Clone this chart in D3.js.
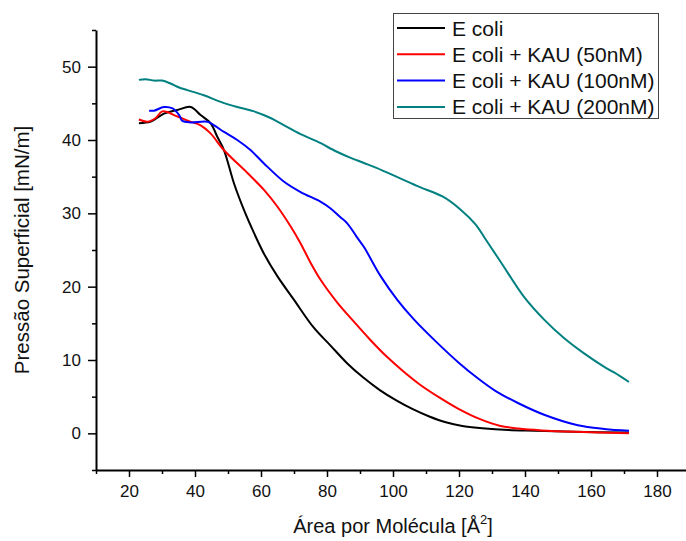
<!DOCTYPE html>
<html>
<head>
<meta charset="utf-8">
<script src="https://cdn.jsdelivr.net/npm/d3@7"></script>
<style>
  body { margin: 0; background: #fff; }
  svg { font-family: "Liberation Sans", Arial, sans-serif; }
</style>
</head>
<body>
<script>
// isotherms: [area, pressure]
const ecoli = [[23,42.3],[26.6,42.5],[30.6,43.6],[34.7,44.1],[38.7,44.5],[41.7,43.4],[44.7,42.3],[46.8,40.4],[48.8,38.6],[51.8,34.1],[54.8,30.5],[57.9,27.3],[60.9,24.5],[65,21.4],[70,18.2],[76,14.4],[81,12],[86,9.6],[91,7.6],[96,5.9],[101,4.5],[106,3.3],[111,2.3],[116,1.5],[121,1.0],[127,0.7],[135,0.45],[143,0.35],[155,0.2],[171.5,0.1]];
const ecoliKau50 = [[23,42.8],[25.6,42.5],[28.1,43.0],[30.1,43.9],[34.7,43.2],[38,42.6],[41.7,42.0],[44.7,40.9],[48.8,38.6],[55.9,35.5],[60.9,33.2],[65,30.9],[69,28.2],[72,25.9],[75.1,23.2],[78.1,20.9],[83,17.9],[88,15.3],[93,12.8],[98,10.5],[103,8.5],[108,6.7],[114,4.9],[120,3.3],[126,2.0],[132.6,1.0],[138,0.65],[145,0.4],[155,0.2],[171.5,0.0]];
const ecoliKau100 = [[26.1,44.0],[27.6,44.0],[30.6,44.5],[33.2,44.3],[35.2,43.4],[36.2,42.6],[38.7,42.4],[43.8,42.5],[45.8,42.0],[48.8,41.1],[52.8,40.0],[56.9,38.6],[60.9,36.8],[67,34.3],[72,32.9],[78,31.6],[81,30.7],[84,29.5],[86.2,28.6],[89,26.8],[91.2,25.4],[96.3,21.4],[101.3,18.2],[106.4,15.5],[113.5,12.3],[120,9.6],[126,7.4],[131,5.8],[138,4.1],[146,2.5],[156,1.1],[164,0.6],[171.5,0.35]];
const ecoliKau200 = [[23,48.2],[25,48.3],[27.6,48.1],[30,48.1],[32.6,47.7],[35,47.2],[37.7,46.8],[42.7,46.1],[47.8,45.2],[52.8,44.5],[57.9,43.9],[62.9,43.0],[67,42],[72,40.8],[77,39.8],[83,38.4],[87,37.6],[91,36.9],[95,36.2],[102,34.8],[108,33.6],[115,32.3],[120.5,30.5],[125,28.5],[128,26.5],[132.6,23.4],[139.7,18.6],[145.8,15.5],[151.8,13.0],[157.9,10.9],[163.9,9.1],[167,8.3],[171.5,7.0]];

const seriesNames = ['E coli', 'E coli + KAU (50nM)', 'E coli + KAU (100nM)', 'E coli + KAU (200nM)'];
const seriesColors = ['#000000', '#ff0000', '#0000ff', '#008080'];
const seriesData = [ecoli, ecoliKau50, ecoliKau100, ecoliKau200];

const xMajor = [20, 40, 60, 80, 100, 120, 140, 160, 180];
const xMinor = [10, 30, 50, 70, 90, 110, 130, 150, 170, 190];
const yMajor = [0, 10, 20, 30, 40, 50];
const yMinor = [-5, 5, 15, 25, 35, 45, 55];

const W = 686, H = 541;

const svg = d3.select('body').append('svg')
  .attr('width', W)
  .attr('height', H);

const x = d3.scaleLinear().domain([10, 190]).range([96, 690]);
const y = d3.scaleLinear().domain([-5, 55]).range([470, 30]);

// minor ticks first, then major axes on top
svg.append('g')
  .attr('transform', `translate(0,${y(-5)})`)
  .call(d3.axisBottom(x).tickValues(xMinor).tickSize(4).tickFormat('').tickSizeOuter(0))
  .call(g => g.select('.domain').remove())
  .call(g => g.selectAll('line').attr('stroke-width', 1.5));

svg.append('g')
  .attr('transform', `translate(${x(10)},0)`)
  .call(d3.axisLeft(y).tickValues(yMinor).tickSize(4).tickFormat('').tickSizeOuter(0))
  .call(g => g.select('.domain').remove())
  .call(g => g.selectAll('line').attr('stroke-width', 1.5));

const xAxis = svg.append('g')
  .attr('transform', `translate(0,${y(-5)})`)
  .call(d3.axisBottom(x).tickValues(xMajor).tickSize(7).tickPadding(8).tickSizeOuter(0));

const yAxis = svg.append('g')
  .attr('transform', `translate(${x(10)},0)`)
  .call(d3.axisLeft(y).tickValues(yMajor).tickSize(8).tickPadding(7).tickSizeOuter(0));

[xAxis, yAxis].forEach(g => {
  g.select('.domain').attr('stroke-width', 2);
  g.selectAll('.tick line').attr('stroke-width', 1.5);
  g.selectAll('.tick text')
    .attr('font-size', 17)
    .attr('font-family', '"Liberation Sans", Arial, sans-serif')
    .attr('fill', '#111');
});

const line = d3.line()
  .x(d => x(d[0]))
  .y(d => y(d[1]))
  .curve(d3.curveCatmullRom.alpha(0.5));

svg.selectAll('.iso')
  .data(seriesData)
  .join('path')
  .attr('class', 'iso')
  .attr('fill', 'none')
  .attr('stroke', (d, i) => seriesColors[i])
  .attr('stroke-width', 2)
  .attr('d', line);

// axis titles
const xt = svg.append('text')
  .attr('x', (x(10) + 690) / 2)
  .attr('y', 533)
  .attr('text-anchor', 'middle')
  .attr('font-size', 20)
  .attr('fill', '#111');
xt.append('tspan').text('Área por Molécula [Å');
xt.append('tspan').attr('font-size', 13).attr('dy', -9).text('2');
xt.append('tspan').attr('dy', 9).text(']');

svg.append('text')
  .attr('transform', `translate(29,${(30 + 470) / 2}) rotate(-90)`)
  .attr('text-anchor', 'middle')
  .attr('font-size', 20.5)
  .attr('fill', '#111')
  .text('Pressão Superficial [mN/m]');

// legend
const legend = svg.append('g');
legend.append('rect')
  .attr('x', 393.5)
  .attr('y', 13.5)
  .attr('width', 265)
  .attr('height', 105)
  .attr('fill', '#fff')
  .attr('stroke', '#444')
  .attr('stroke-width', 1);

const items = legend.selectAll('.legend-item')
  .data(seriesNames)
  .join('g')
  .attr('class', 'legend-item')
  .attr('transform', (d, i) => `translate(0,${28 + i * 26.3})`);

items.append('line')
  .attr('x1', 397)
  .attr('x2', 445)
  .attr('stroke', (d, i) => seriesColors[i])
  .attr('stroke-width', 2);

items.append('text')
  .attr('x', 452)
  .attr('dy', '0.36em')
  .attr('font-size', 21)
  .attr('fill', '#111')
  .text(d => d);
</script>
</body>
</html>
